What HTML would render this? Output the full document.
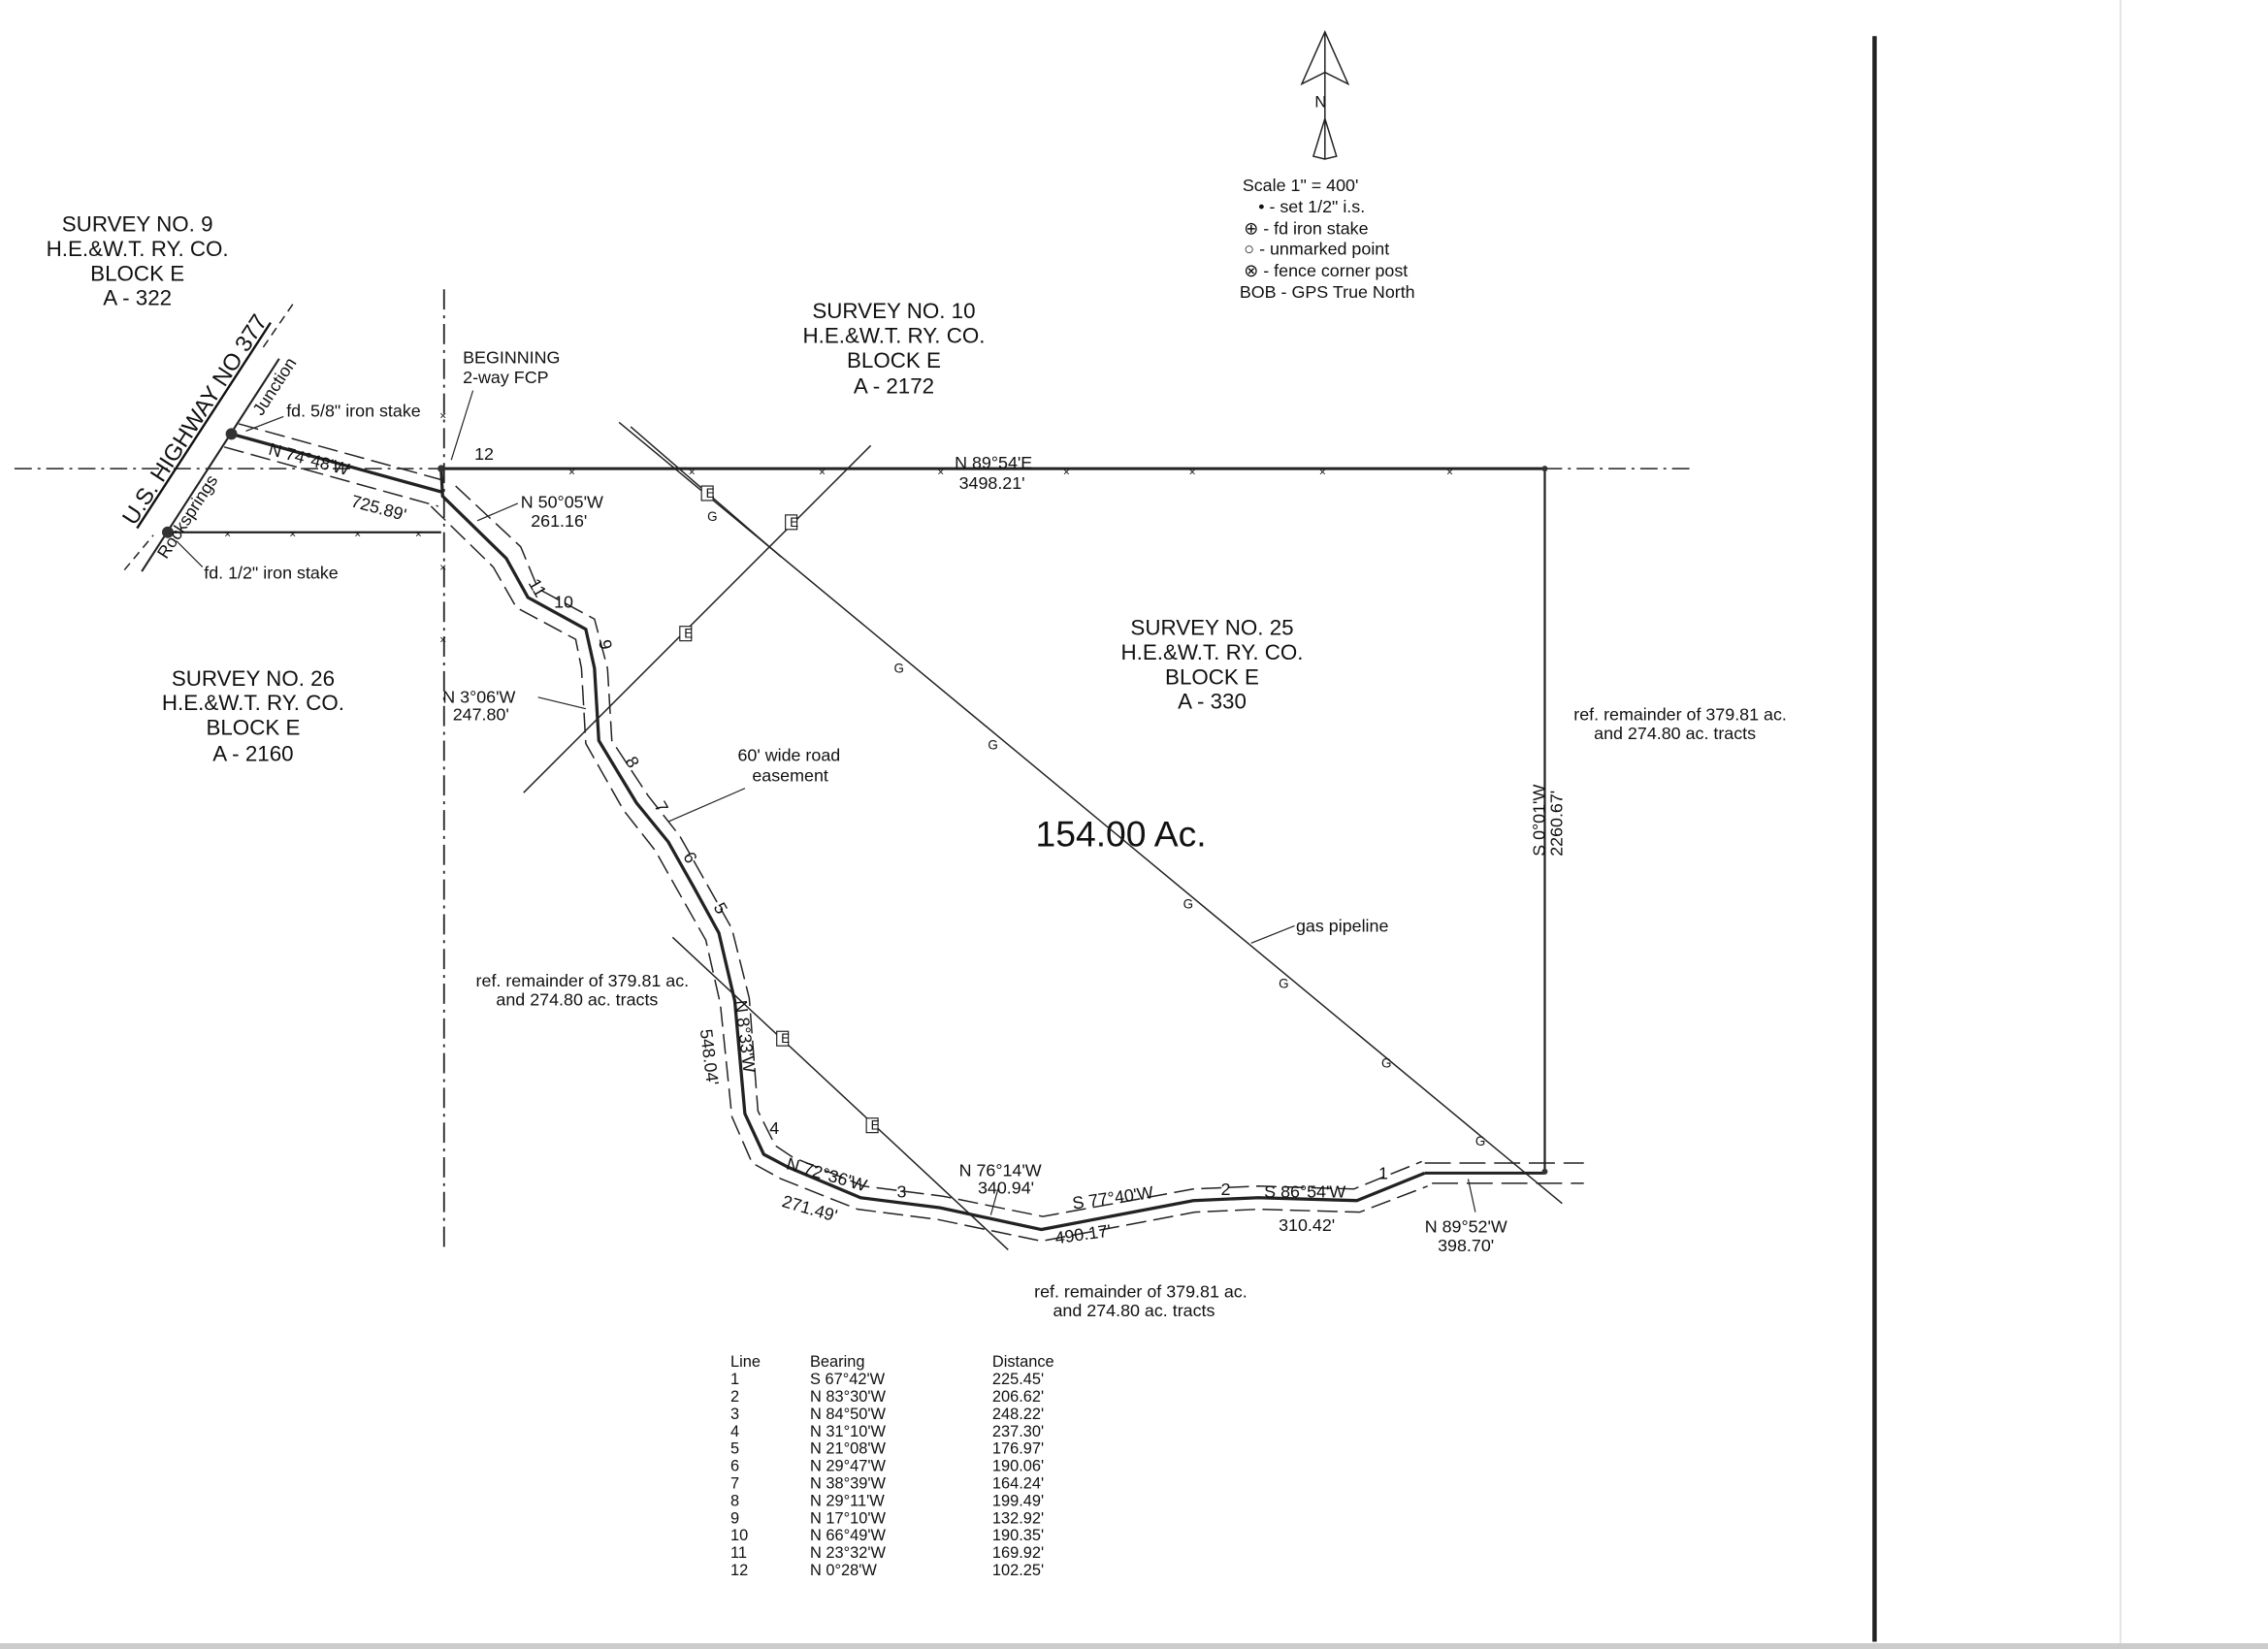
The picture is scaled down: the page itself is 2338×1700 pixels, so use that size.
<!DOCTYPE html>
<html><head><meta charset="utf-8"><style>
html,body{margin:0;padding:0;background:#fff}
svg{display:block}
text{font-family:"Liberation Sans",Arial,sans-serif;fill:#111}
</style></head><body>
<svg width="2338" height="1700" viewBox="0 0 1568 1140" preserveAspectRatio="none" xmlns="http://www.w3.org/2000/svg">
<rect width="1568" height="1140" fill="#fff"/>
<rect x="0" y="1136" width="1568" height="4" fill="#ccc"/>
<line x1="1466" y1="0" x2="1466" y2="1136" stroke="#ddd" stroke-width="1"/>
<line x1="1296" y1="25" x2="1296" y2="1135" stroke="#222" stroke-width="3"/>

<g stroke="#222" fill="none" stroke-width="1">
<path d="M916,22 L900,58 L916,50 L932,58 Z"/><line x1="916" y1="22" x2="916" y2="110"/>
<path d="M916,110 L908,108 L916,82 L924,108 Z"/>
</g>
<text x="909" y="74" font-size="11">N</text>
<g font-size="12">
<text x="859" y="132">Scale 1" = 400'</text>
<text x="870" y="147">• - set 1/2" i.s.</text>
<text x="860" y="162">⊕ - fd iron stake</text>
<text x="860" y="176">○ - unmarked point</text>
<text x="860" y="191">⊗ - fence corner post</text>
<text x="857" y="206">BOB - GPS True North</text>
</g>

<g font-size="15" text-anchor="middle">
<text x="95" y="160">SURVEY NO. 9</text><text x="95" y="177">H.E.&amp;W.T. RY. CO.</text><text x="95" y="194">BLOCK E</text><text x="95" y="211">A - 322</text>
<text x="618" y="220">SURVEY NO. 10</text><text x="618" y="237">H.E.&amp;W.T. RY. CO.</text><text x="618" y="254">BLOCK E</text><text x="618" y="272">A - 2172</text>
<text x="838" y="439">SURVEY NO. 25</text><text x="838" y="456">H.E.&amp;W.T. RY. CO.</text><text x="838" y="473">BLOCK E</text><text x="838" y="490">A - 330</text>
<text x="175" y="474">SURVEY NO. 26</text><text x="175" y="491">H.E.&amp;W.T. RY. CO.</text><text x="175" y="508">BLOCK E</text><text x="175" y="526">A - 2160</text>
</g>
<text x="775" y="585" font-size="25" text-anchor="middle">154.00 Ac.</text>

<g stroke="#222" fill="none">
<line x1="10" y1="324" x2="305" y2="324" stroke-dasharray="12,4,2,4" stroke-width="1"/>
<line x1="1068" y1="324" x2="1170" y2="324" stroke-dasharray="12,4,2,4" stroke-width="1"/>
<line x1="305" y1="324" x2="1068" y2="324" stroke-width="2"/>
<line x1="1068" y1="324" x2="1068" y2="810" stroke-width="1.5"/>
<line x1="307" y1="200" x2="307" y2="866" stroke-dasharray="14,4,2,4" stroke-width="1.2"/>
<line x1="985" y1="811" x2="1068" y2="811" stroke-width="2"/>
<line x1="985" y1="804" x2="1095" y2="804" stroke-dasharray="18,6" stroke-width="1"/>
<line x1="990" y1="818" x2="1095" y2="818" stroke-dasharray="18,6" stroke-width="1"/>
<line x1="98" y1="395" x2="193" y2="248" stroke-width="1.4"/>
<line x1="86" y1="394" x2="106" y2="370" stroke-width="1" stroke-dasharray="6,4"/>
<line x1="182" y1="240" x2="204" y2="208" stroke-width="1" stroke-dasharray="6,4"/>
<line x1="115" y1="368" x2="305" y2="368" stroke-width="1.5"/>
<line x1="160" y1="300" x2="305" y2="340" stroke-width="2.2"/>
<line x1="155" y1="309" x2="303" y2="350" stroke-width="1" stroke-dasharray="14,5"/>
<line x1="165" y1="293" x2="310" y2="333" stroke-width="1" stroke-dasharray="14,5"/>
<line x1="196" y1="288" x2="170" y2="298" stroke-width="0.8"/>
<line x1="140" y1="392" x2="122" y2="374" stroke-width="0.8"/>
<line x1="327" y1="270" x2="312" y2="318" stroke-width="0.8"/>
<line x1="358" y1="348" x2="330" y2="360" stroke-width="0.8"/>
<line x1="372" y1="482" x2="405" y2="490" stroke-width="0.8"/>
<line x1="515" y1="545" x2="462" y2="568" stroke-width="0.8"/>
<line x1="895" y1="640" x2="865" y2="652" stroke-width="0.8"/>
<line x1="1020" y1="838" x2="1015" y2="815" stroke-width="0.8"/>
<line x1="690" y1="822" x2="685" y2="840" stroke-width="0.8"/>
<polyline stroke-width="2.2" points="305,324 306,343 350,386 365,413 405,435 411,462 414,512 440,555 462,582 480,614 497,645 508,692 515,770 528,798 545,807 595,828 650,835 720,850 825,830 870,828 938,830 985,811"/>
<polyline stroke-width="1" stroke-dasharray="14,5" points="315,336 360,378 372,407 411,428 420,462 423,512 448,550 470,578 488,610 506,642 518,690 524,768 536,792 548,800 597,820 652,827 721,841 825,822 870,820 936,822 983,803"/>
<polyline stroke-width="1" stroke-dasharray="14,5" points="298,350 341,392 357,420 398,442 402,462 405,514 431,560 453,588 471,620 488,650 498,694 506,772 520,804 540,815 593,836 648,843 720,858 826,838 870,836 940,838 987,820"/>
<line x1="428" y1="292" x2="1080" y2="832" stroke-width="1"/>
<line x1="436" y1="295" x2="540" y2="385" stroke-width="1"/>
<line x1="362" y1="548" x2="602" y2="308" stroke-width="1"/>
<line x1="465" y1="648" x2="697" y2="864" stroke-width="1"/>
</g>
<g font-size="8" fill="#666">
<text x="393" y="329">×</text><text x="476" y="329">×</text><text x="566" y="329">×</text><text x="648" y="329">×</text><text x="735" y="329">×</text><text x="822" y="329">×</text><text x="912" y="329">×</text><text x="1000" y="329">×</text>
<text x="155" y="372">×</text><text x="200" y="372">×</text><text x="245" y="372">×</text><text x="287" y="372">×</text>
<text x="304" y="290">×</text><text x="304" y="445">×</text><text x="304" y="395">×</text>
</g>
<g font-size="9" fill="#fff" stroke="#222" stroke-width="0.8">
<rect x="485" y="336" width="8" height="10"/><rect x="543" y="356" width="8" height="10"/><rect x="470" y="433" width="8" height="10"/><rect x="537" y="713" width="8" height="10"/><rect x="599" y="773" width="8" height="10"/>
</g>
<g font-size="9">
<text x="488" y="344">E</text><text x="546" y="364">E</text><text x="473" y="441">E</text><text x="540" y="721">E</text><text x="602" y="781">E</text>
<text x="489" y="360">G</text><text x="618" y="465">G</text><text x="683" y="518">G</text><text x="818" y="628">G</text><text x="884" y="683">G</text><text x="955" y="738">G</text><text x="1020" y="792">G</text>
</g>
<g fill="#333">
<circle cx="160" cy="300" r="4"/><circle cx="116" cy="368" r="4"/><circle cx="305" cy="324" r="2.5"/><circle cx="1068" cy="324" r="2"/><circle cx="1068" cy="810" r="2"/>
</g>

<g font-size="12">
<text x="93" y="364" transform="rotate(-57 93 364)" font-size="16" text-decoration="underline">U.S. HIGHWAY NO 377</text>
<text x="115" y="387" transform="rotate(-57 115 387)">Rocksprings</text>
<text x="181" y="288" transform="rotate(-57 181 288)">Junction</text>
<text x="198" y="288">fd. 5/8" iron stake</text>
<text x="141" y="400">fd. 1/2" iron stake</text>
<text x="320" y="251">BEGINNING</text><text x="320" y="265">2-way FCP</text>
<text x="328" y="318">12</text>
<text x="185" y="314" transform="rotate(15 185 314)">N 74°48'W</text>
<text x="242" y="350" transform="rotate(15 242 350)">725.89'</text>
<text x="360" y="351">N 50°05'W</text><text x="367" y="364">261.16'</text>
<text x="306" y="486">N 3°06'W</text><text x="313" y="498">247.80'</text>
<text x="510" y="526">60' wide road</text><text x="520" y="540">easement</text>
<text x="660" y="324">N 89°54'E</text><text x="663" y="338">3498.21'</text>
<text x="1088" y="498">ref. remainder of 379.81 ac.</text><text x="1102" y="511">and 274.80 ac. tracts</text>
<text x="329" y="682">ref. remainder of 379.81 ac.</text><text x="343" y="695">and 274.80 ac. tracts</text>
<text x="715" y="897">ref. remainder of 379.81 ac.</text><text x="728" y="910">and 274.80 ac. tracts</text>
<text x="1068" y="592" transform="rotate(-90 1068 592)">S 0°01'W</text>
<text x="1080" y="592" transform="rotate(-90 1080 592)">2260.67'</text>
<text x="896" y="644">gas pipeline</text>
<text x="508" y="692" transform="rotate(83 508 692)">N 8°33'W</text>
<text x="484" y="712" transform="rotate(83 484 712)">548.04'</text>
<text x="543" y="808" transform="rotate(16 543 808)">N 72°36'W</text>
<text x="540" y="834" transform="rotate(16 540 834)">271.49'</text>
<text x="663" y="813">N 76°14'W</text><text x="676" y="825">340.94'</text>
<text x="742" y="836" transform="rotate(-8 742 836)">S 77°40'W</text>
<text x="730" y="860" transform="rotate(-8 730 860)">490.17'</text>
<text x="874" y="828">S 86°54'W</text><text x="884" y="851">310.42'</text>
<text x="985" y="852">N 89°52'W</text><text x="994" y="865">398.70'</text>
<text x="365" y="403" transform="rotate(60 365 403)">11</text><text x="383" y="420">10</text>
<text x="414" y="443" transform="rotate(80 414 443)">9</text><text x="432" y="526" transform="rotate(60 432 526)">8</text>
<text x="452" y="557" transform="rotate(60 452 557)">7</text><text x="472" y="592" transform="rotate(60 472 592)">6</text>
<text x="493" y="627" transform="rotate(60 493 627)">5</text><text x="532" y="784">4</text>
<text x="620" y="828">3</text><text x="844" y="826">2</text><text x="953" y="815">1</text>
</g>

<g font-size="11">
<text x="505" y="945">Line</text><text x="560" y="945">Bearing</text><text x="686" y="945">Distance</text>
<text x="505" y="957">1</text><text x="560" y="957">S 67°42'W</text><text x="686" y="957">225.45'</text>
<text x="505" y="969">2</text><text x="560" y="969">N 83°30'W</text><text x="686" y="969">206.62'</text>
<text x="505" y="981">3</text><text x="560" y="981">N 84°50'W</text><text x="686" y="981">248.22'</text>
<text x="505" y="993">4</text><text x="560" y="993">N 31°10'W</text><text x="686" y="993">237.30'</text>
<text x="505" y="1005">5</text><text x="560" y="1005">N 21°08'W</text><text x="686" y="1005">176.97'</text>
<text x="505" y="1017">6</text><text x="560" y="1017">N 29°47'W</text><text x="686" y="1017">190.06'</text>
<text x="505" y="1029">7</text><text x="560" y="1029">N 38°39'W</text><text x="686" y="1029">164.24'</text>
<text x="505" y="1041">8</text><text x="560" y="1041">N 29°11'W</text><text x="686" y="1041">199.49'</text>
<text x="505" y="1053">9</text><text x="560" y="1053">N 17°10'W</text><text x="686" y="1053">132.92'</text>
<text x="505" y="1065">10</text><text x="560" y="1065">N 66°49'W</text><text x="686" y="1065">190.35'</text>
<text x="505" y="1077">11</text><text x="560" y="1077">N 23°32'W</text><text x="686" y="1077">169.92'</text>
<text x="505" y="1089">12</text><text x="560" y="1089">N 0°28'W</text><text x="686" y="1089">102.25'</text>
</g>
</svg>
</body></html>
